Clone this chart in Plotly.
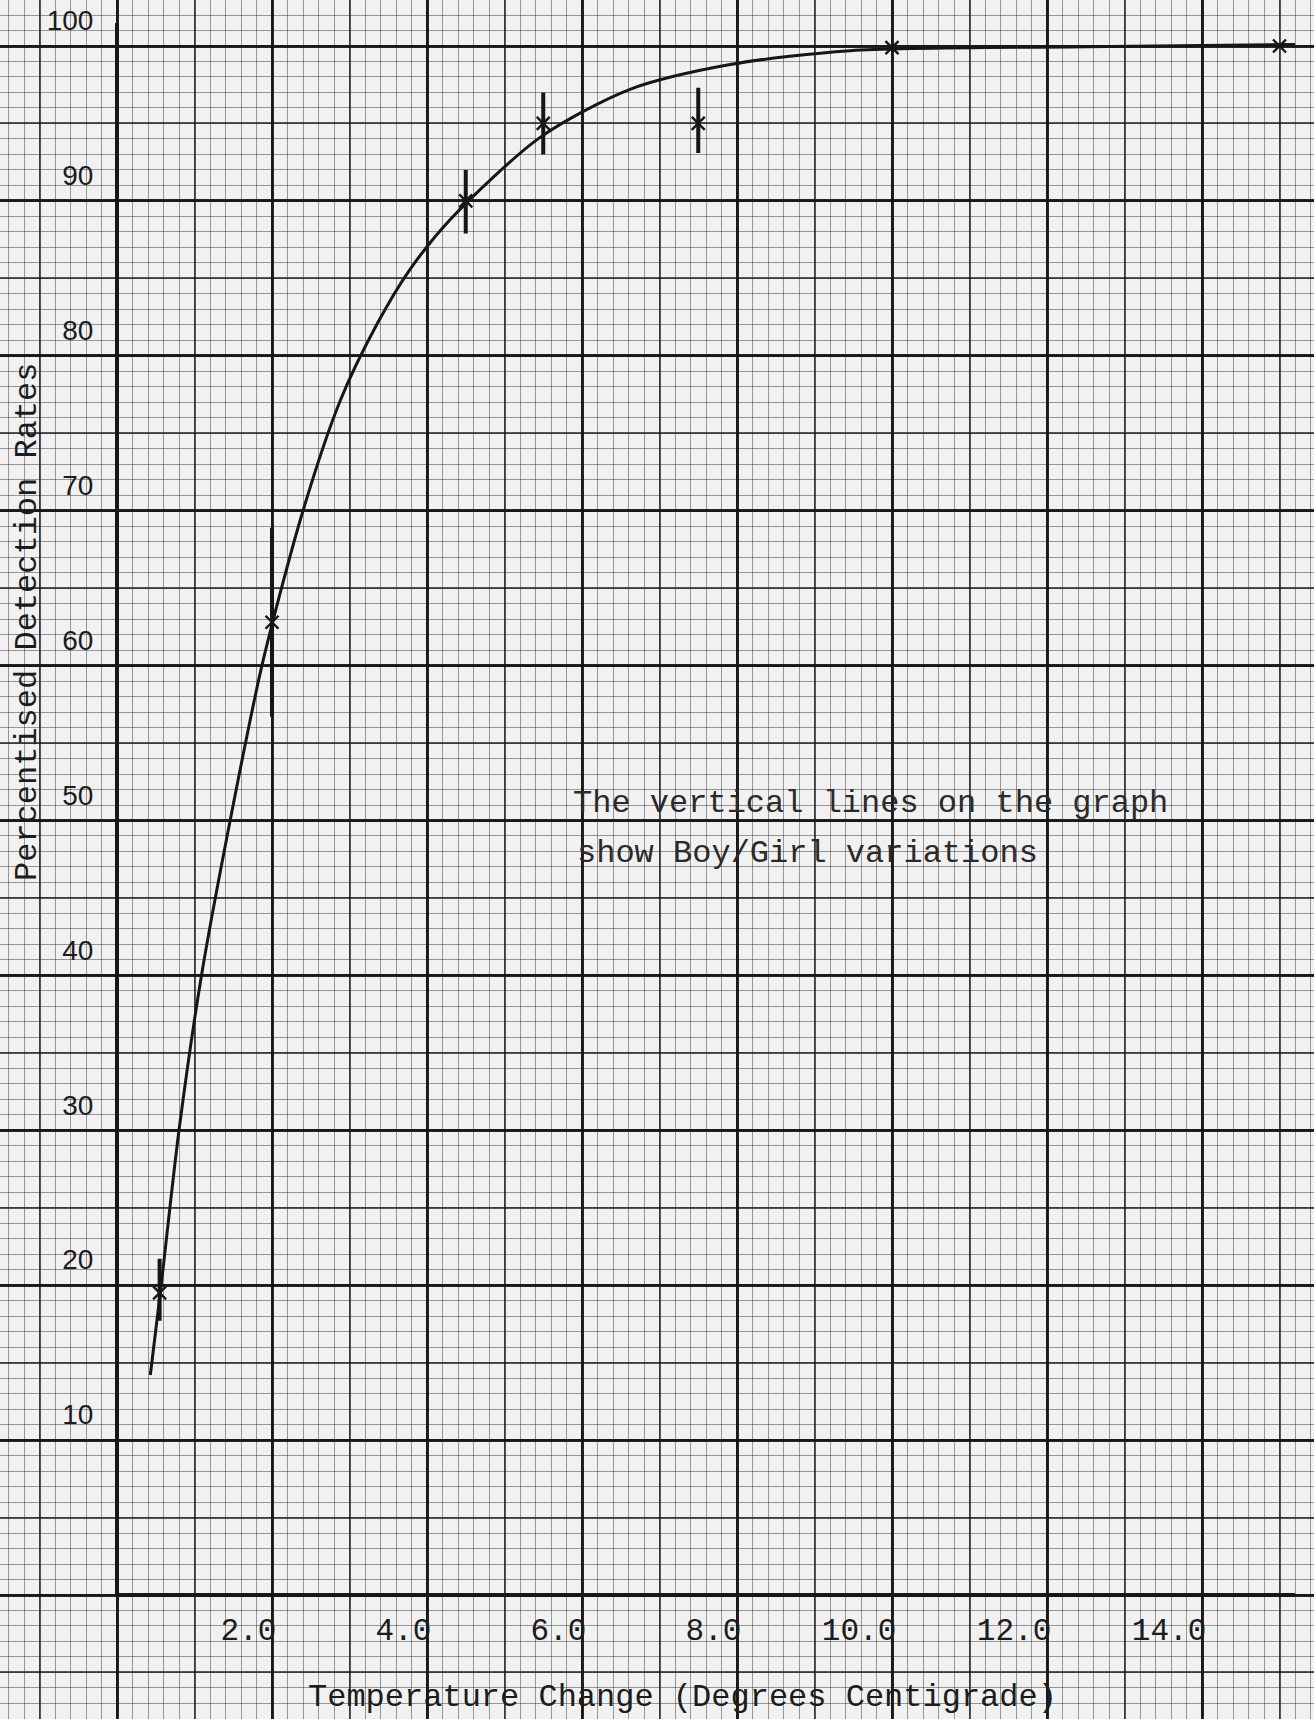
import plotly.graph_objects as go

# ---------------- data ----------------
point_x = [0.55, 2.0, 4.5, 5.5, 7.5, 10.0, 15.0]
point_y = [19.5, 62.8, 90.0, 95.0, 95.0, 99.9, 100.0]
bar_high = [21.7, 68.9, 92.0, 97.0, 97.3, None, None]
bar_low = [17.7, 56.7, 87.9, 93.0, 93.1, None, None]

curve_x = [0.43, 0.57, 0.80, 1.09, 1.46, 1.87, 2.40, 2.88, 3.35, 3.77, 4.30, 5.46, 6.62, 7.91, 9.46, 12.5, 15.3]
curve_y = [14.2, 20.0, 30.0, 40.0, 50.0, 60.0, 70.0, 77.1, 82.0, 85.5, 88.8, 94.1, 97.2, 98.8, 99.7, 99.95, 100.1]

x_tickvals = [2, 4, 6, 8, 10, 12, 14]
x_ticktext = ["2.0", "4.0", "6.0", "8.0", "10.0", "12.0", "14.0"]
y_tickvals = [10, 20, 30, 40, 50, 60, 70, 80, 90, 100]
y_ticktext = ["10", "20", "30", "40", "50", "60", "70", "80", "90", "100"]

x_title = "Temperature Change (Degrees Centigrade)"
y_title = "Percentised Detection Rates"
note_lines = ["The vertical lines on the graph", "show Boy/Girl variations"]

# ---------------- page geometry ----------------
W, H = 1314, 1719
X0_PX, PX_PER_X = 117, 77.5      # pixel of x=0, px per x unit
Y0_PX, PX_PER_Y = 1595, 15.49    # pixel of y=0, px per y unit
X_END, Y_END = 15.2, 101.5       # ends of the drawn axes
LW = 3.5                         # axis line width

bg_xrange = [-X0_PX / PX_PER_X, (W - X0_PX) / PX_PER_X]
bg_yrange = [-(H - Y0_PX) / PX_PER_Y, Y0_PX / PX_PER_Y]

typewriter = "Liberation Mono, Courier New, monospace"
ink = "#161616"
paper = "#f1f1f1"

fig = go.Figure()

# empty traces so the graph-paper subplots are created
fig.add_trace(go.Scatter(x=[], y=[], xaxis="x", yaxis="y", hoverinfo="skip"))
fig.add_trace(go.Scatter(x=[], y=[], xaxis="x3", yaxis="y3", hoverinfo="skip"))

# curve
fig.add_trace(go.Scatter(
    x=curve_x, y=curve_y, mode="lines",
    line=dict(color=ink, width=3, shape="spline", smoothing=0.8),
    xaxis="x2", yaxis="y2", hoverinfo="skip"))

# points with boy/girl variation bars
err_up = [None if h is None else h - y for h, y in zip(bar_high, point_y)]
err_dn = [None if l is None else y - l for l, y in zip(bar_low, point_y)]
fig.add_trace(go.Scatter(
    x=point_x, y=point_y, mode="markers",
    marker=dict(symbol="x-thin", size=13, line=dict(width=2.4, color=ink), color=ink),
    error_y=dict(type="data", symmetric=False, array=err_up, arrayminus=err_dn,
                 thickness=4, width=0, color=ink),
    xaxis="x2", yaxis="y2"))

fine = "rgba(25,25,25,0.42)"
medium = "rgba(20,20,20,0.70)"
heavy = "rgba(10,10,10,0.88)"

fig.update_layout(
    width=W, height=H,
    margin=dict(l=0, r=0, t=0, b=0, pad=0, autoexpand=False),
    paper_bgcolor=paper, plot_bgcolor="rgba(0,0,0,0)",
    showlegend=False,
    # graph paper: fine + heavy lines
    xaxis=dict(domain=[0, 1], range=bg_xrange, anchor="y", showticklabels=False, ticks="",
               zeroline=False, showline=False, automargin=False,
               tick0=0, dtick=2, showgrid=True, gridcolor=heavy, gridwidth=2.5,
               minor=dict(dtick=0.2, tick0=0, showgrid=True, gridcolor=fine, gridwidth=1.3)),
    yaxis=dict(domain=[0, 1], range=bg_yrange, anchor="x", showticklabels=False, ticks="",
               zeroline=False, showline=False, automargin=False,
               tick0=0, dtick=10, showgrid=True, gridcolor=heavy, gridwidth=2.5,
               minor=dict(dtick=1, tick0=0, showgrid=True, gridcolor=fine, gridwidth=1.3)),
    # graph paper: medium lines
    xaxis3=dict(overlaying="x", anchor="y3", range=bg_xrange, showticklabels=False, ticks="",
                zeroline=False, tick0=0, dtick=1, showgrid=True, automargin=False,
                gridcolor=medium, gridwidth=1.8),
    yaxis3=dict(overlaying="y", anchor="x3", range=bg_yrange, showticklabels=False, ticks="",
                zeroline=False, tick0=0, dtick=5, showgrid=True, automargin=False,
                gridcolor=medium, gridwidth=1.8),
    # the drawn chart axes (domain nudged by half a line width so the line sits on zero)
    xaxis2=dict(domain=[(X0_PX + LW / 2) / W, (X0_PX + X_END * PX_PER_X) / W],
                range=[(LW / 2) / PX_PER_X, X_END],
                anchor="y2", showgrid=False, zeroline=False, automargin=False,
                showline=True, linecolor=ink, linewidth=LW,
                ticks="outside", ticklen=6, tickwidth=2, tickcolor=ink,
                tickvals=x_tickvals, ticktext=x_ticktext,
                ticklabelposition="outside left", ticklabelstandoff=6, ticklabelshift=7,
                tickfont=dict(family=typewriter, size=31, color="#1c1c1c")),
    yaxis2=dict(domain=[(H - Y0_PX + LW / 2) / H, (H - Y0_PX + Y_END * PX_PER_Y) / H],
                range=[(LW / 2) / PX_PER_Y, Y_END],
                anchor="x2", showgrid=False, zeroline=False, automargin=False,
                showline=True, linecolor=ink, linewidth=LW,
                ticks="outside", ticklen=6, tickwidth=2, tickcolor=ink,
                tickvals=y_tickvals, ticktext=y_ticktext,
                ticklabelposition="outside top", ticklabelstandoff=16, ticklabelshift=-5,
                tickfont=dict(family="Liberation Sans, DejaVu Sans, sans-serif", size=28, color="#1c1c1c")),
    annotations=[
        dict(text=x_title, xref="paper", yref="paper", x=682 / W, y=1 - 1697 / H,
             xanchor="center", yanchor="middle", showarrow=False,
             font=dict(family=typewriter, size=32, color="#1c1c1c")),
        dict(text=y_title, xref="paper", yref="paper", x=27 / W, y=1 - 622 / H,
             xanchor="center", yanchor="middle", showarrow=False, textangle=-90,
             font=dict(family=typewriter, size=32, color="#1c1c1c")),
        dict(text=note_lines[0], xref="x2", yref="y2", x=5.86, y=51.1,
             xanchor="left", yanchor="middle", showarrow=False,
             font=dict(family=typewriter, size=32, color="#2a2a2a")),
        dict(text=note_lines[1], xref="x2", yref="y2", x=5.91, y=47.9,
             xanchor="left", yanchor="middle", showarrow=False,
             font=dict(family=typewriter, size=32, color="#2a2a2a")),
    ],
)

fig.write_html("out.html")
